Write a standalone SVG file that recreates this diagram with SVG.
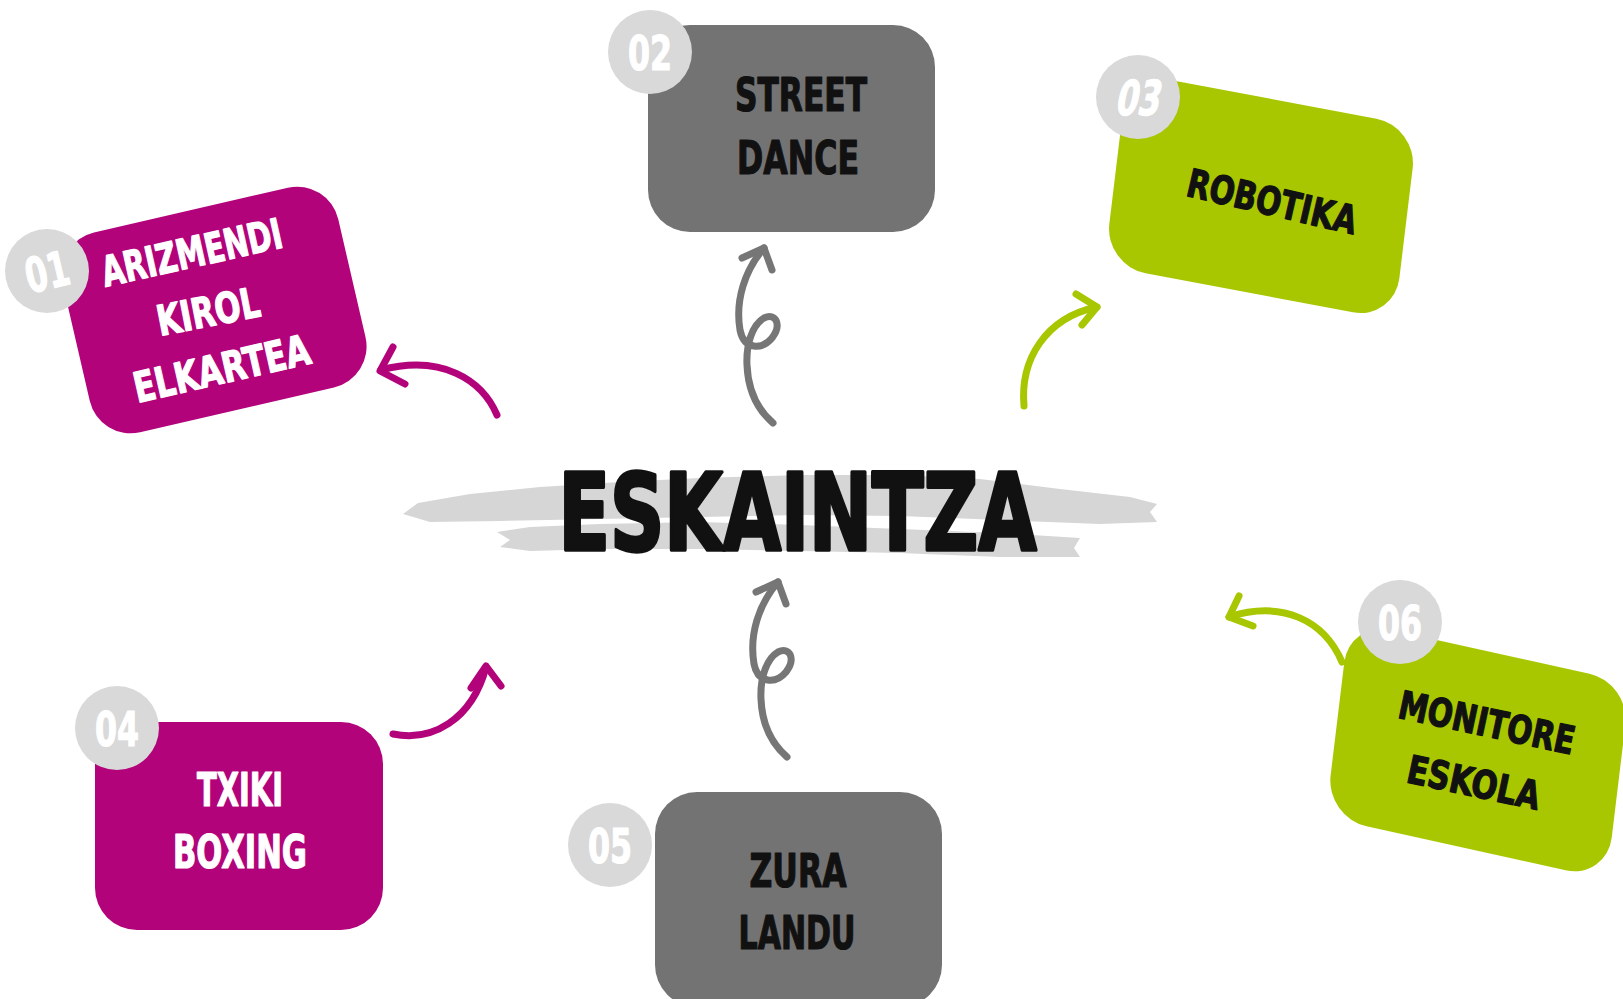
<svg xmlns="http://www.w3.org/2000/svg" width="1623" height="999" viewBox="0 0 1623 999">
<style>
.t{font-family:"DejaVu Sans Condensed","DejaVu Sans","Liberation Sans",sans-serif;font-weight:bold;text-anchor:middle;stroke-linejoin:round;}
.w{fill:#ffffff;stroke:#ffffff;stroke-width:1.2;}
.k{fill:#111111;stroke:#111111;stroke-width:1.2;}
.big{stroke-width:3.5;}
.mag{fill:#b3037b;}
.grn{fill:#a8c700;}
.gry{fill:#737373;}
.num{fill:#d9d9d9;}
.c{fill:none;stroke-width:7;stroke-linecap:round;stroke-linejoin:round;}
.cm{stroke:#b3037b;}
.cg{stroke:#a8c700;}
.cy{stroke:#767676;}
.brush{fill:#d6d6d6;}
</style>
<rect width="1623" height="999" fill="#ffffff"/>

<g id="center">
<path class="brush" d="M403,514 L418,503 L470,494 L540,487 L620,482 L700,478 L800,475 L900,475 L980,479 L1060,489 L1130,497 L1157,504 L1150,512 L1157,522 L1100,524 L1000,520 L900,516 L800,515 L700,517 L600,519 L500,521 L430,522 Z"/>
<path class="brush" d="M497,532 L530,527 L600,524 L700,522 L800,525 L900,529 L1000,533 L1080,538 L1074,548 L1080,557 L1000,557 L900,553 L800,551 L700,549 L600,549 L530,551 L500,547 L510,540 Z"/>
<text class="t k big" x="797.5" y="550" font-size="107" textLength="478" lengthAdjust="spacingAndGlyphs">ESKAINTZA</text>
</g>

<g id="node01">
<rect class="mag" x="-141.5" y="-102.5" width="283" height="205" rx="42" transform="translate(214,310) rotate(-13)"/>
<circle class="num" cx="47" cy="271" r="42"/>
<text class="t w" font-size="48" textLength="44" lengthAdjust="spacingAndGlyphs" transform="translate(47,271) rotate(-13)" x="0" y="18">01</text>
<text class="t w" font-size="42" textLength="184" lengthAdjust="spacingAndGlyphs" transform="translate(195,267) rotate(-12.5)" x="0" y="0">ARIZMENDI</text>
<text class="t w" font-size="42" textLength="104" lengthAdjust="spacingAndGlyphs" transform="translate(211,326) rotate(-11)" x="0" y="0">KIROL</text>
<text class="t w" font-size="42" textLength="180" lengthAdjust="spacingAndGlyphs" transform="translate(225,383) rotate(-12.8)" x="0" y="0">ELKARTEA</text>
</g>

<g id="node02">
<rect class="gry" x="648" y="25" width="287" height="207" rx="42"/>
<circle class="num" cx="650" cy="52" r="42"/>
<text class="t w" x="650" y="70" font-size="48" textLength="44" lengthAdjust="spacingAndGlyphs">02</text>
<text class="t k" x="801" y="111" font-size="47" textLength="132" lengthAdjust="spacingAndGlyphs">STREET</text>
<text class="t k" x="798" y="174" font-size="47" textLength="122" lengthAdjust="spacingAndGlyphs">DANCE</text>
</g>

<g id="node03">
<rect class="grn" x="-147.5" y="-97.5" width="295" height="195" rx="42" transform="matrix(0.983,0.185,-0.12,0.993,1261,196)"/>
<circle class="num" cx="1138" cy="97" r="42"/>
<text class="t w" font-size="48" textLength="44" lengthAdjust="spacingAndGlyphs" transform="translate(1138,97) skewX(-12)" x="2" y="18">03</text>
<text class="t k" font-size="39" textLength="173" lengthAdjust="spacingAndGlyphs" transform="translate(1269,215) rotate(13)" x="0" y="0">ROBOTIKA</text>
</g>

<g id="node04">
<rect class="mag" x="95" y="722" width="288" height="208" rx="42"/>
<circle class="num" cx="117" cy="728" r="42"/>
<text class="t w" x="117" y="746" font-size="48" textLength="44" lengthAdjust="spacingAndGlyphs">04</text>
<text class="t w" x="240" y="806" font-size="47" textLength="86" lengthAdjust="spacingAndGlyphs">TXIKI</text>
<text class="t w" x="240" y="868" font-size="47" textLength="134" lengthAdjust="spacingAndGlyphs">BOXING</text>
</g>

<g id="node05">
<rect class="gry" x="655" y="792" width="287" height="215" rx="42"/>
<circle class="num" cx="610" cy="845" r="42"/>
<text class="t w" x="610" y="863" font-size="48" textLength="44" lengthAdjust="spacingAndGlyphs">05</text>
<text class="t k" x="798" y="887" font-size="47" textLength="97" lengthAdjust="spacingAndGlyphs">ZURA</text>
<text class="t k" x="797" y="949" font-size="47" textLength="117" lengthAdjust="spacingAndGlyphs">LANDU</text>
</g>

<g id="node06">
<rect class="grn" x="-144" y="-99" width="288" height="198" rx="42" transform="matrix(0.976,0.216,-0.12,0.993,1478,750)"/>
<circle class="num" cx="1400" cy="622" r="42"/>
<text class="t w" x="1400" y="640" font-size="48" textLength="44" lengthAdjust="spacingAndGlyphs">06</text>
<text class="t k" font-size="39" textLength="179" lengthAdjust="spacingAndGlyphs" transform="translate(1484,736) rotate(12)" x="0" y="0">MONITORE</text>
<text class="t k" font-size="39" textLength="135" lengthAdjust="spacingAndGlyphs" transform="translate(1471,796) rotate(12)" x="0" y="0">ESKOLA</text>
</g>

<g id="connectors">
<path class="c cm" d="M497,415 C482,380 442,354 381,370"/>
<path class="c cm" d="M393,347 L380,371 L405,384"/>
<path class="c cy" d="M764,248 C745,270 735,300 740,330 C744,350 762,350 772,338 C782,325 776,312 764,318 C752,325 746,345 747,365 C748,390 758,410 773,423"/>
<path class="c cy" d="M742,258 L764,248 L772,270"/>
<path class="c cg" d="M1024,406 C1020,360 1045,318 1097,307"/>
<path class="c cg" d="M1076,294 L1097,307 L1082,325"/>
<path class="c cm" d="M393,734 C432,742 472,720 486,667"/>
<path class="c cm" d="M471,688 L486,666 L501,686"/>
<path class="c cy" d="M778,582 C759,604 749,634 754,664 C758,684 776,684 786,672 C796,659 790,646 778,652 C766,659 760,679 761,699 C762,724 772,744 787,757"/>
<path class="c cy" d="M756,592 L778,582 L786,604"/>
<path class="c cg" d="M1342,662 C1324,620 1282,600 1229,617"/>
<path class="c cg" d="M1239,596 L1229,617 L1253,626"/>
</g>
</svg>
